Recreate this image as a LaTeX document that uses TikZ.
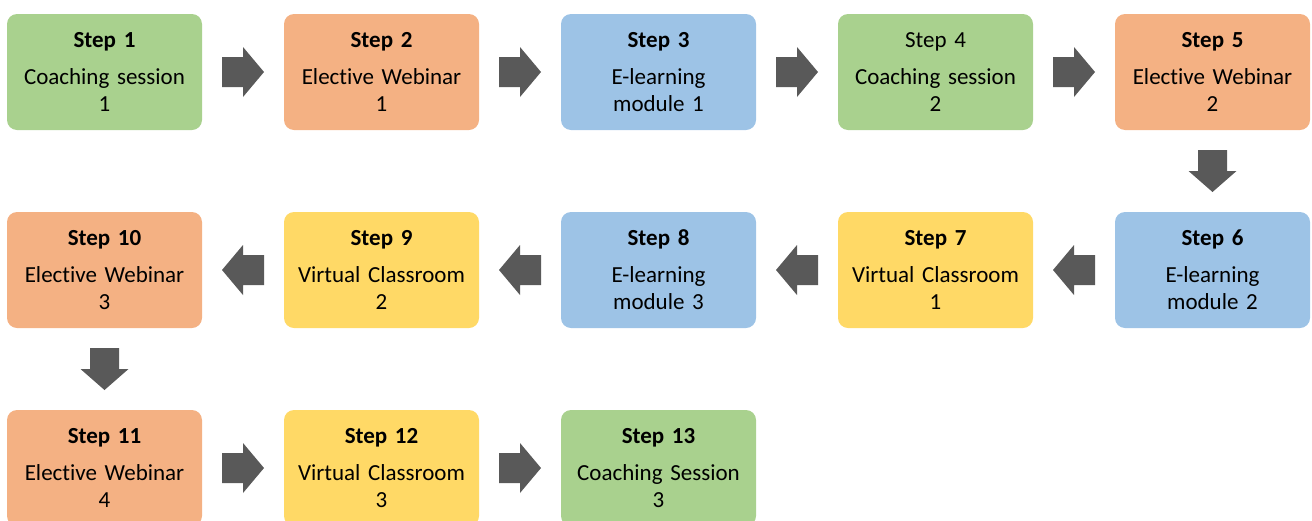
\documentclass[tikz,border=0pt]{standalone}
\usepackage{fontspec}
\setmainfont{Carlito}[Ligatures=NoCommon, WordSpace=0.8]
\usetikzlibrary{calc}
\definecolor{cgreen}{HTML}{A9D18E}
\definecolor{corange}{HTML}{F4B183}
\definecolor{cblue}{HTML}{9DC3E6}
\definecolor{cyellow}{HTML}{FFD966}
\definecolor{agray}{HTML}{595959}
\tikzset{
  box/.style={rounded corners=10pt, minimum width=195pt, minimum height=116pt,
    text width=185pt, align=center, inner sep=0pt, font=\fontsize{23}{27}\selectfont},
  gbox/.style={box, fill=cgreen},
  obox/.style={box, fill=corange},
  bbox/.style={box, fill=cblue},
  ybox/.style={box, fill=cyellow},
  rblock/.pic={\fill[agray] (-21,-15) -- (0,-15) -- (0,-25) -- (21,0) -- (0,25) -- (0,15) -- (-21,15) -- cycle;},
  lblock/.pic={\fill[agray] (21,-15) -- (0,-15) -- (0,-25) -- (-21,0) -- (0,25) -- (0,15) -- (21,15) -- cycle;},
  dblock/.pic={\fill[agray] (-14.5,-21) -- (14.5,-21) -- (14.5,0) -- (24,0) -- (0,21) -- (-24,0) -- (-14.5,0) -- cycle;}
}
\begin{document}
\begin{tikzpicture}[x=1pt, y=-1pt]
\useasboundingbox (0,0) rectangle (1312,520);
% row 1
\node[gbox] (s1) at (104.5,72) {\textbf{Step 1}\\[10pt]Coaching session\\1};
\node[obox] (s2) at (381.5,72) {\textbf{Step 2}\\[10pt]Elective Webinar\\1};
\node[bbox] (s3) at (658.5,72) {\textbf{Step 3}\\[10pt]E-learning\\module 1};
\node[gbox] (s4) at (935.5,72) {Step 4\\[10pt]Coaching session\\2};
\node[obox] (s5) at (1212.5,72) {\textbf{Step 5}\\[10pt]Elective Webinar\\2};
% row 2
\node[bbox] (s6) at (1212.5,270) {\textbf{Step 6}\\[10pt]E-learning\\module 2};
\node[ybox] (s7) at (935.5,270) {\textbf{Step 7}\\[10pt]Virtual Classroom\\1};
\node[bbox] (s8) at (658.5,270) {\textbf{Step 8}\\[10pt]E-learning\\module 3};
\node[ybox] (s9) at (381.5,270) {\textbf{Step 9}\\[10pt]Virtual Classroom\\2};
\node[obox] (s10) at (104.5,270) {\textbf{Step 10}\\[10pt]Elective Webinar\\3};
% row 3
\node[obox] (s11) at (104.5,468) {\textbf{Step 11}\\[10pt]Elective Webinar\\4};
\node[ybox] (s12) at (381.5,468) {\textbf{Step 12}\\[10pt]Virtual Classroom\\3};
\node[gbox] (s13) at (658.5,468) {\textbf{Step 13}\\[10pt]Coaching Session\\3};
% arrows
\path ($(s1.east)!0.5!(s2.west)$) pic {rblock};
\path ($(s2.east)!0.5!(s3.west)$) pic {rblock};
\path ($(s3.east)!0.5!(s4.west)$) pic {rblock};
\path ($(s4.east)!0.5!(s5.west)$) pic {rblock};
\path ($(s5.south)!0.5!(s6.north)$) pic {dblock};
\path ($(s6.west)!0.5!(s7.east)$) pic {lblock};
\path ($(s7.west)!0.5!(s8.east)$) pic {lblock};
\path ($(s8.west)!0.5!(s9.east)$) pic {lblock};
\path ($(s9.west)!0.5!(s10.east)$) pic {lblock};
\path ($(s10.south)!0.5!(s11.north)$) pic {dblock};
\path ($(s11.east)!0.5!(s12.west)$) pic {rblock};
\path ($(s12.east)!0.5!(s13.west)$) pic {rblock};
\end{tikzpicture}
\end{document}
